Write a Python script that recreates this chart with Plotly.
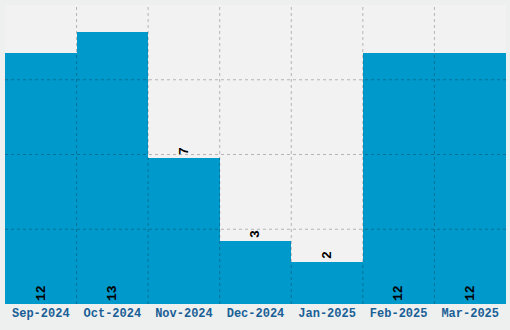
import plotly.graph_objects as go

months = ["Sep-2024", "Oct-2024", "Nov-2024", "Dec-2024", "Jan-2025", "Feb-2025", "Mar-2025"]
counts = [12, 13, 7, 3, 2, 12, 12]

ymax = max(counts) * 1.1
n = len(months)
positions = ["inside" if v >= 10 else "outside" for v in counts]

fig = go.Figure(go.Bar(
    x=months, y=counts,
    marker=dict(color="#0099cc", line=dict(width=0)),
    text=[str(v) for v in counts],
    textposition=positions,
    insidetextanchor="start",
    textangle=-90,
    textfont=dict(family="Liberation Mono", size=13, color="black", weight="bold"),
    cliponaxis=False,
))

grid = dict(color="rgba(0,0,0,0.25)", width=1, dash="3px,3px")
shapes = []
for i in range(n - 1):
    shapes.append(dict(type="line", xref="x", yref="paper", x0=i + 0.5, x1=i + 0.5,
                       y0=0, y1=1, line=grid, layer="above"))
for k in range(1, 4):
    shapes.append(dict(type="line", xref="paper", yref="y", x0=0, x1=1,
                       y0=k * ymax / 4, y1=k * ymax / 4, line=grid, layer="above"))

fig.update_layout(
    width=510, height=330,
    margin=dict(l=5, r=4, t=5, b=26),
    paper_bgcolor="#eef0f0",
    plot_bgcolor="#f2f2f2",
    bargap=0,
    showlegend=False,
    shapes=shapes,
    xaxis=dict(showgrid=False, zeroline=False, showline=False, ticks="",
               tickfont=dict(family="Liberation Mono", size=12, color="#1a5f96", weight="bold")),
    yaxis=dict(range=[0, ymax], showgrid=False, zeroline=False, showticklabels=False),
)

fig.write_html("out.html")
